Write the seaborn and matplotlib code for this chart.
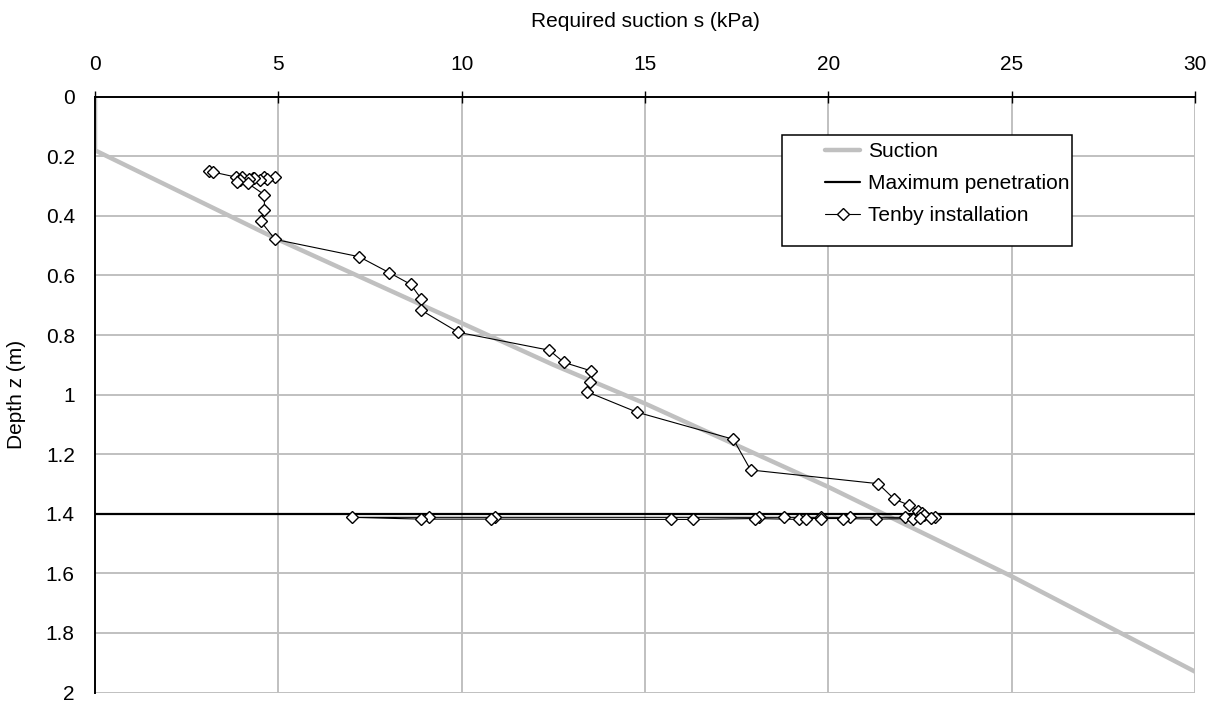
import matplotlib
matplotlib.use("Agg")
import matplotlib.pyplot as plt
import seaborn as sns
import pandas as pd
from matplotlib.patches import Rectangle
from matplotlib.lines import Line2D

# ---- data ----
suction_s = [0, 0, 2.5, 5, 7.5, 10, 12.5, 15, 17.5, 20, 22.5, 25, 27.5, 30]
suction_z = [0, 0.18, 0.33, 0.48, 0.62, 0.76, 0.90, 1.03, 1.17, 1.31, 1.46, 1.61, 1.77, 1.93]

max_pen_z = 1.4

tenby_s = [3.12, 3.22, 3.85, 4.0, 4.3, 4.6, 4.9, 4.7, 4.5, 4.35, 4.2, 3.95, 3.88, 4.16,
           4.62, 4.62, 4.52, 4.91, 7.2, 8.03, 8.61, 8.9, 8.9, 9.91, 12.39, 12.79, 13.52,
           13.5, 13.41, 14.78, 17.41, 17.88, 21.36, 21.8, 22.2, 22.45, 22.55, 22.6, 22.9,
           22.1, 20.6, 19.8, 18.8, 18.1, 10.9, 9.1, 7.0,
           8.9, 10.8, 15.7, 16.3, 18.0, 19.2, 19.4, 19.8, 20.4, 21.3, 22.3, 22.5, 22.8]
tenby_z = [0.251, 0.253, 0.270, 0.268, 0.272, 0.270, 0.270, 0.275, 0.280, 0.272, 0.275, 0.280, 0.285, 0.290,
           0.329, 0.379, 0.418, 0.479, 0.537, 0.591, 0.630, 0.679, 0.717, 0.791, 0.851, 0.892, 0.920,
           0.959, 0.990, 1.059, 1.150, 1.253, 1.299, 1.351, 1.371, 1.390, 1.397, 1.403, 1.410,
           1.412, 1.412, 1.412, 1.412, 1.412, 1.412, 1.412, 1.412,
           1.418, 1.418, 1.419, 1.419, 1.416, 1.419, 1.416, 1.416, 1.416, 1.418, 1.416, 1.414, 1.413]

x_ticks = [0, 5, 10, 15, 20, 25, 30]
y_ticks = [0, 0.2, 0.4, 0.6, 0.8, 1.0, 1.2, 1.4, 1.6, 1.8, 2.0]
y_tick_labels = ["0", "0.2", "0.4", "0.6", "0.8", "1", "1.2", "1.4", "1.6", "1.8", "2"]

x_label = "Required suction s (kPa)"
y_label = "Depth z (m)"
legend_labels = ["Suction", "Maximum penetration", "Tenby installation"]

# ---- style ----
sns.set_theme(style="white")
plt.rcParams["font.family"] = ["Liberation Sans", "DejaVu Sans"]
plt.rcParams["text.color"] = "black"
plt.rcParams["axes.labelcolor"] = "black"
FS = 15

TOP, BOT = 96.7, 692.5
fig = plt.figure(figsize=(12.15, 7.04), dpi=100)
ax = fig.add_axes([95 / 1215, 1 - BOT / 704, 1100 / 1215, (BOT - TOP) / 704])

grid_c = "#c0c0c0"
for xv in x_ticks[1:]:
    ax.axvline(xv, color=grid_c, lw=1.4, zorder=0)
for yv in y_ticks[1:]:
    ax.axhline(yv, color=grid_c, lw=1.4, zorder=0)

suction_df = pd.DataFrame({"s": suction_s, "z": suction_z})
tenby_df = pd.DataFrame({"s": tenby_s, "z": tenby_z})

sns.lineplot(data=suction_df, x="s", y="z", sort=False, estimator=None,
             color="#c0c0c0", lw=3.2, ax=ax, zorder=2)
ax.axhline(max_pen_z, color="black", lw=1.6, zorder=3)
sns.lineplot(data=tenby_df, x="s", y="z", sort=False, estimator=None,
             color="black", lw=0.8, marker="D", markersize=6.2,
             markerfacecolor="white", markeredgecolor="black", markeredgewidth=1.0,
             ax=ax, zorder=4)

ax.set_xlim(0, 30)
ax.set_ylim(2, 0)
ax.set_xticks(x_ticks)
ax.set_yticks(y_ticks)
ax.set_yticklabels(y_tick_labels)
ax.xaxis.tick_top()
ax.xaxis.set_label_position("top")
ax.set_xlabel(x_label, fontsize=FS, labelpad=20, color="black")
ax.set_ylabel(y_label, fontsize=FS, labelpad=14, color="black")
ax.tick_params(axis="both", direction="inout", length=9, width=1.0, color="black",
               labelsize=FS, colors="black")
ax.tick_params(axis="x", pad=12)
ax.tick_params(axis="y", pad=10)
for side in ["right", "bottom"]:
    ax.spines[side].set_visible(False)
for side in ["top", "left"]:
    ax.spines[side].set_color("black")
    ax.spines[side].set_linewidth(1.4)
ax.grid(False)

# legend box
H = BOT - TOP
bx0 = (782 - 95) / 1100
bx1 = (1072 - 95) / 1100
by1 = 1 - (135 - TOP) / H
by0 = 1 - (246 - TOP) / H
ax.add_patch(Rectangle((bx0, by0), bx1 - bx0, by1 - by0, transform=ax.transAxes,
                       facecolor="white", edgecolor="black", lw=1.1, zorder=6))
handles = [
    Line2D([], [], color="#c0c0c0", lw=3.2),
    Line2D([], [], color="black", lw=1.6),
    Line2D([], [], color="black", lw=0.8, marker="D", markersize=6.2,
           markerfacecolor="white", markeredgecolor="black", markeredgewidth=1.0),
]
leg = ax.legend(handles, legend_labels, loc="upper left",
                bbox_to_anchor=((825 - 95) / 1100, 1 - (142 - TOP) / H),
                frameon=False, fontsize=FS, borderpad=0, handlelength=1.7,
                handletextpad=0.35, labelspacing=0.62, borderaxespad=0)
for t in leg.get_texts():
    t.set_color("black")
leg.set_zorder(7)

fig.savefig("out.png", dpi=100)
